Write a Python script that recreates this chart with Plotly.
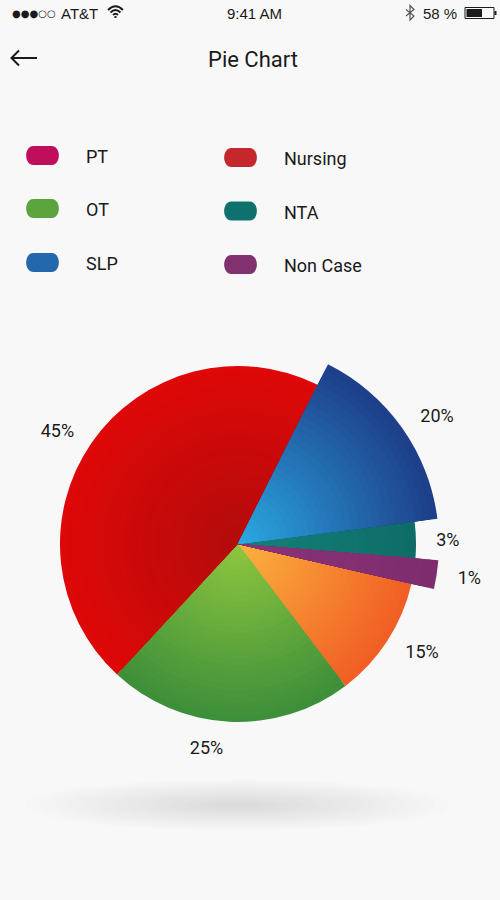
import plotly.graph_objects as go

# pie data (clockwise, starting with the blue slice)
slice_names = ['SLP', 'NTA', 'Non Case', 'PT', 'OT', 'Nursing']
slice_shares = [15.6, 3.3, 2.3, 11.1, 22.2, 45.5]      # angular share
slice_labels = ['20%', '3%', '1%', '15%', '25%', '45%']  # text printed next to each slice
raised = ['SLP', 'Non Case']                            # slices drawn with a larger radius

# gradient ends for each slice (near centre -> rim)
inner_colors = ['#2AA8E0', '#13817A', '#8A3378', '#FBB13F', '#8DC63F', '#B30B0B']
outer_colors = ['#1E3F8A', '#0F6C67', '#7E2C6E', '#F15F24', '#3E8F3A', '#DE0808']

# legend entries (two columns)
legend_left = ['PT', 'OT', 'SLP']
legend_left_colors = ['#BE0E5C', '#5BA43D', '#2368AC']
legend_right = ['Nursing', 'NTA', 'Non Case']
legend_right_colors = ['#C4282C', '#0F716E', '#813070']

BG = '#F8F8F8'
INK = '#1A1A1A'
CX, CY = 238, 544
R_BASE, R_RAISED = 178, 201
RINGS = 28


def mix(c1, c2, t):
    a = [int(c1[i:i + 2], 16) for i in (1, 3, 5)]
    b = [int(c2[i:i + 2], 16) for i in (1, 3, 5)]
    return '#' + ''.join(f'{round(x + (y - x) * t):02X}' for x, y in zip(a, b))


def dom(r):
    return dict(x=[(CX - r) / 500, (CX + r) / 500], y=[1 - (CY + r) / 900, 1 - (CY - r) / 900])


def pie(colors, text, radius):
    return go.Pie(
        labels=slice_names,
        values=slice_shares,
        sort=False,
        direction='clockwise',
        rotation=26.6,
        marker=dict(colors=colors, line=dict(width=0)),
        text=text,
        textinfo='text' if any(text) else 'none',
        textposition='outside',
        textfont=dict(family='Roboto', size=18, color=INK),
        showlegend=False,
        hoverinfo='skip',
        domain=dom(radius),
    )


fig = go.Figure()

# empty trace so the pixel-like x/y axes exist for shapes
fig.add_trace(go.Scatter(x=[], y=[], showlegend=False, hoverinfo='skip'))

# slices, painted as concentric rings to mimic the gradient fill
clear = ['rgba(0,0,0,0)'] * len(slice_names)
blank = [''] * len(slice_names)
for group, radius in [('base', R_BASE), ('raised', R_RAISED)]:
    use = [(n in raised) == (group == 'raised') for n in slice_names]
    for k in range(RINGS):
        f = 1 - k / RINGS
        t = 1 - k / (RINGS - 1)
        cols = [mix(ci, co, t) if u else 'rgba(0,0,0,0)'
                for ci, co, u in zip(inner_colors, outer_colors, use)]
        fig.add_trace(pie(cols, blank, radius * f))

# percentage labels, hung on invisible pies a little wider than the slices
for group, radius in [('base', 193), ('raised', 217)]:
    use = [(n in raised) == (group == 'raised') for n in slice_names]
    txt = [lab if u else '' for lab, u in zip(slice_labels, use)]
    fig.add_trace(pie(clear, txt, radius))

shapes = []
annotations = []

# soft shadow under the pie
for i in range(14):
    k = 1 - i * 0.068
    shapes.append(dict(type='circle', xref='x', yref='y',
                       x0=237 - 212 * k, x1=237 + 212 * k,
                       y0=805 - 26 * k, y1=805 + 26 * k,
                       fillcolor='rgba(0,0,0,0.009)', line=dict(width=0), layer='below'))

# legend pills + labels
rows_left = [155.5, 208.5, 262.5]
rows_right = [157.5, 211, 264.5]
for names, colors, rows, x0, tx in [(legend_left, legend_left_colors, rows_left, 24, 84),
                                    (legend_right, legend_right_colors, rows_right, 222, 282)]:
    for name, col, yc in zip(names, colors, rows):
        h = 19
        w = 37
        r = h / 2
        path = (f'M {x0 + r},{yc - r} L {x0 + w - r},{yc - r} '
                f'C {x0 + w + 0.3},{yc - r} {x0 + w + 0.3},{yc + r} {x0 + w - r},{yc + r} '
                f'L {x0 + r},{yc + r} '
                f'C {x0 - 0.3},{yc + r} {x0 - 0.3},{yc - r} {x0 + r},{yc - r} Z')
        shapes.append(dict(type='path', xref='x', yref='y', path=path,
                           fillcolor=col, line=dict(width=0)))
        annotations.append(dict(x=tx, y=yc + 1, xref='x', yref='y', text=name,
                                showarrow=False, xanchor='left', yanchor='middle',
                                font=dict(family='Roboto', size=18, color=INK)))

# title bar
annotations.append(dict(x=253, y=59, xref='x', yref='y', text='Pie Chart', showarrow=False,
                        xanchor='center', yanchor='middle',
                        font=dict(family='Roboto', size=22, color=INK)))
shapes.append(dict(type='path', xref='x', yref='y',
                   path='M 11,58 L 37,58 M 19,50.5 L 11.5,58 L 19,65.5',
                   line=dict(color=INK, width=2)))

# status bar
annotations.append(dict(x=10, y=13, xref='x', yref='y', text='●●●○○', showarrow=False,
                        xanchor='left', yanchor='middle',
                        font=dict(family='DejaVu Sans', size=10, color=INK)))
annotations.append(dict(x=59, y=13, xref='x', yref='y', text='AT&T', showarrow=False,
                        xanchor='left', yanchor='middle',
                        font=dict(family='Liberation Sans', size=15, color=INK)))
annotations.append(dict(x=254, y=13, xref='x', yref='y', text='9:41 AM', showarrow=False,
                        xanchor='center', yanchor='middle',
                        font=dict(family='Liberation Sans', size=15, color=INK)))
annotations.append(dict(x=459, y=13, xref='x', yref='y', text='58 %', showarrow=False,
                        xanchor='right', yanchor='middle',
                        font=dict(family='Liberation Sans', size=15, color=INK)))

# wifi icon
wx, wy = 115.5, 17.5
for rr in [3.5, 7, 10.5]:
    d = rr * 0.707
    shapes.append(dict(type='path', xref='x', yref='y',
                       path=f'M {wx - d},{wy - d} Q {wx},{wy - rr * 1.414} {wx + d},{wy - d}',
                       line=dict(color=INK, width=2)))
shapes.append(dict(type='circle', xref='x', yref='y', x0=wx - 1.3, x1=wx + 1.3,
                   y0=wy - 1.6, y1=wy + 0.6, fillcolor=INK, line=dict(width=0)))

# bluetooth icon
shapes.append(dict(type='path', xref='x', yref='y',
                   path='M 406,9.5 L 414,16 L 410,20 L 410,5.5 L 414,9.5 L 406,16',
                   line=dict(color='#555555', width=1.2)))

# battery
shapes.append(dict(type='rect', xref='x', yref='y', x0=465, x1=494, y0=7.5, y1=18.5,
                   line=dict(color=INK, width=1), fillcolor='rgba(0,0,0,0)'))
shapes.append(dict(type='rect', xref='x', yref='y', x0=466.5, x1=482, y0=9, y1=17,
                   line=dict(width=0), fillcolor=INK))
shapes.append(dict(type='rect', xref='x', yref='y', x0=494.5, x1=496.5, y0=11, y1=15,
                   line=dict(width=0), fillcolor=INK))

fig.update_layout(
    width=500, height=900,
    margin=dict(l=0, r=0, t=0, b=0),
    paper_bgcolor=BG, plot_bgcolor=BG,
    xaxis=dict(range=[0, 500], visible=False, fixedrange=True, domain=[0, 1]),
    yaxis=dict(range=[900, 0], visible=False, fixedrange=True, domain=[0, 1]),
    shapes=shapes,
    annotations=annotations,
    showlegend=False,
)

fig.write_html("out.html", config={'displayModeBar': False},
               post_script="document.body.style.margin='0';document.body.style.overflow='hidden';")
